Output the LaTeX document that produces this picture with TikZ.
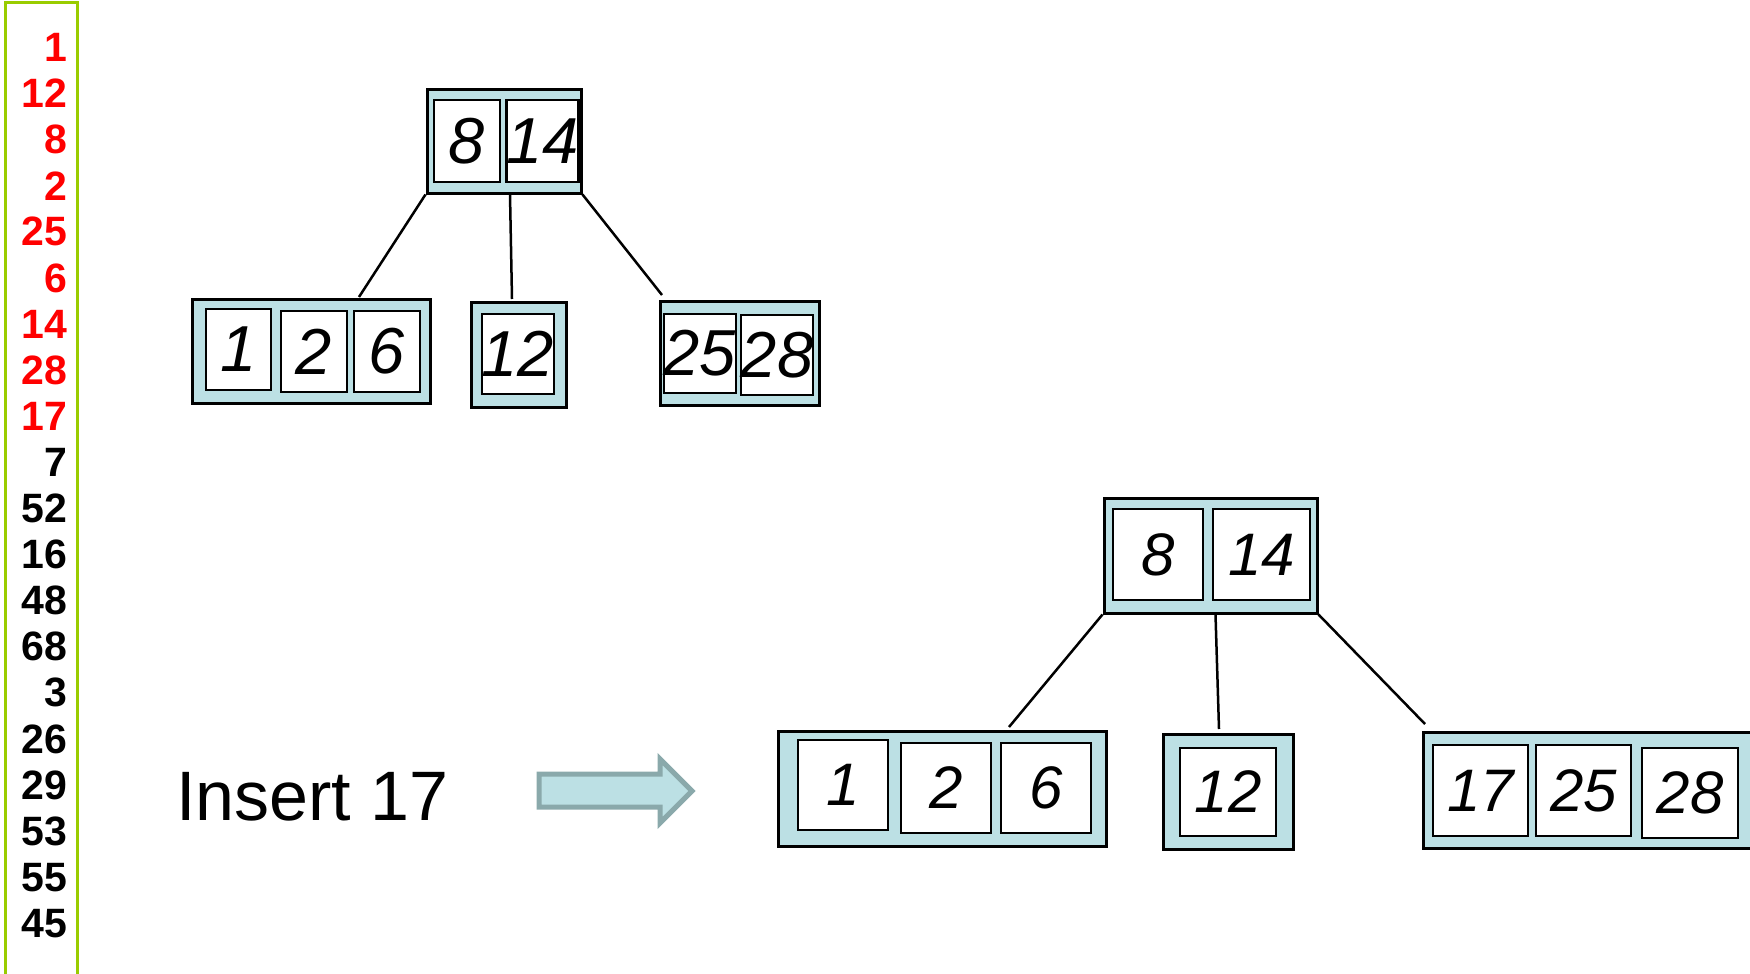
\documentclass[tikz,border=0pt]{standalone}
\usepackage{fontspec}
\setmainfont{Liberation Sans}
\definecolor{pageblue}{HTML}{BCE0E4}
\definecolor{arrowedge}{HTML}{8AA9AB}
\definecolor{barlime}{HTML}{99CC00}
\tikzset{
  keybox/.style={draw, line width=3pt, fill=pageblue, inner sep=0pt},
  keycell/.style={draw, line width=2.5pt, fill=white, inner sep=0pt},
  bigkey/.style={keycell, font=\fontsize{65}{65}\selectfont\itshape},
  newkey/.style={keycell, font=\fontsize{60}{60}\selectfont\itshape},
  link/.style={line width=2.5pt},
  seqnum/.style={anchor=east, inner sep=0pt, font=\fontsize{41}{41}\selectfont\bfseries}
}

\begin{document}
\begin{tikzpicture}[x=1pt, y=-1pt]
\useasboundingbox (0,0) rectangle (1750,974);

% insertion order
\draw [barlime, line width=3pt] (5,980) -- (5,3) -- (77,3) -- (77,980);
\node [seqnum, red] (seq1) at (67.5,47.4) {1};
\node [seqnum, red] (seq2) at (67.5,93.5) {12};
\node [seqnum, red] (seq3) at (67.5,139.6) {8};
\node [seqnum, red] (seq4) at (67.5,185.7) {2};
\node [seqnum, red] (seq5) at (67.5,231.8) {25};
\node [seqnum, red] (seq6) at (67.5,277.9) {6};
\node [seqnum, red] (seq7) at (67.5,324.0) {14};
\node [seqnum, red] (seq8) at (67.5,370.1) {28};
\node [seqnum, red] (seq9) at (67.5,416.2) {17};
\node [seqnum] (seq10) at (67.5,462.3) {7};
\node [seqnum] (seq11) at (67.5,508.4) {52};
\node [seqnum] (seq12) at (67.5,554.5) {16};
\node [seqnum] (seq13) at (67.5,600.6) {48};
\node [seqnum] (seq14) at (67.5,646.7) {68};
\node [seqnum] (seq15) at (67.5,692.8) {3};
\node [seqnum] (seq16) at (67.5,738.9) {26};
\node [seqnum] (seq17) at (67.5,785.0) {29};
\node [seqnum] (seq18) at (67.5,831.1) {53};
\node [seqnum] (seq19) at (67.5,877.2) {55};
\node [seqnum] (seq20) at (67.5,923.3) {45};

% tree before
\node [keybox, minimum width=154, minimum height=104] (oldroot) at (504,141) {};
\node [bigkey, minimum width=66, minimum height=82] (oldr1) at (467,141) {8};
\node [bigkey, minimum width=69, minimum height=82] (oldr2) at (542.5,141) {14};

\node [keybox, minimum width=238, minimum height=104] (oldleft) at (311,351) {};
\node [bigkey, minimum width=65, minimum height=81] (oldl1) at (238.5,349.5) {1};
\node [bigkey, minimum width=66, minimum height=81] (oldl2) at (314,351.5) {2};
\node [bigkey, minimum width=66, minimum height=81] (oldl3) at (387,351.5) {6};

\node [keybox, minimum width=95, minimum height=105] (oldmid) at (518.5,354.5) {};
\node [bigkey, minimum width=72, minimum height=80] (oldm1) at (518,354) {12};

\node [keybox, minimum width=159, minimum height=104] (oldright) at (739.5,353) {};
\node [bigkey, minimum width=70, minimum height=79] (oldg1) at (700,353.5) {25};
\node [bigkey, minimum width=70, minimum height=80] (oldg2) at (777,355) {28};

\coordinate (oldlefttop) at (359,297);
\coordinate (oldmidtop) at (512,299);
\coordinate (oldrighttop) at (662,295);
\draw [link] (oldroot.south west) -- (oldlefttop);
\draw [link] ([xshift=6]oldroot.south) -- (oldmidtop);
\draw [link] (oldroot.south east) -- (oldrighttop);

% step
\node [anchor=base west, inner sep=0pt, font=\fontsize{70}{70}\selectfont] (step) at (176,820) {Insert 17};
\draw [fill=pageblue, draw=arrowedge, line width=5pt]
  (539,774) -- (660,774) -- (660,759) -- (692,791) -- (660,823) -- (660,807) -- (539,807) -- cycle;

% tree after
\node [keybox, minimum width=213, minimum height=115] (newroot) at (1210.5,555.5) {};
\node [newkey, minimum width=90, minimum height=91] (newr1) at (1158,554.5) {8};
\node [newkey, minimum width=97, minimum height=91] (newr2) at (1261.5,554.5) {14};

\node [keybox, minimum width=328, minimum height=115] (newleft) at (942,788.5) {};
\node [newkey, minimum width=90, minimum height=90] (newl1) at (843,785) {1};
\node [newkey, minimum width=90, minimum height=90] (newl2) at (946,788) {2};
\node [newkey, minimum width=90, minimum height=90] (newl3) at (1046,788) {6};

\node [keybox, minimum width=130, minimum height=115] (newmid) at (1228,791.5) {};
\node [newkey, minimum width=96, minimum height=88] (newm1) at (1228,792) {12};

\node [keybox, minimum width=337, minimum height=116] (newright) at (1591.5,790) {};
\node [newkey, minimum width=95, minimum height=91] (newg1) at (1480.5,790.5) {17};
\node [newkey, minimum width=95, minimum height=91] (newg2) at (1583.5,790.5) {25};
\node [newkey, minimum width=96, minimum height=90] (newg3) at (1690,793) {28};

\coordinate (newlefttop) at (1009,727);
\coordinate (newmidtop) at (1219,729);
\coordinate (newrighttop) at (1425,724);
\draw [link] (newroot.south west) -- (newlefttop);
\draw [link] ([xshift=5]newroot.south) -- (newmidtop);
\draw [link] (newroot.south east) -- (newrighttop);
\end{tikzpicture}
\end{document}
